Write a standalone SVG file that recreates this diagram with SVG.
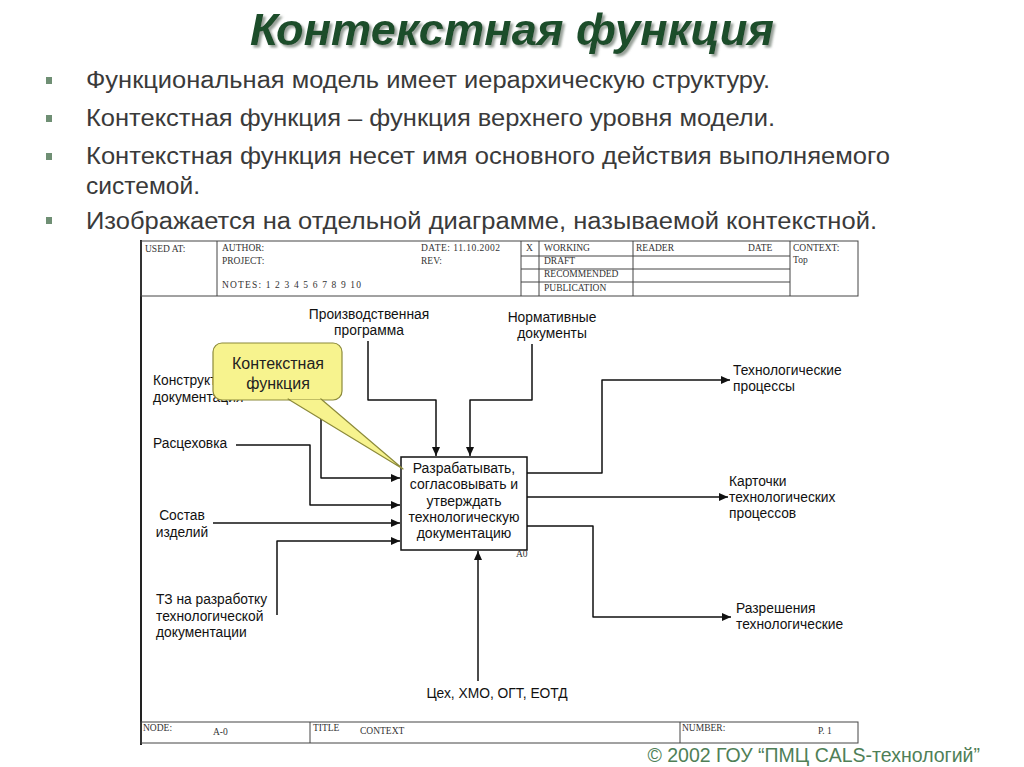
<svg xmlns="http://www.w3.org/2000/svg" width="1024" height="767" viewBox="0 0 1024 767">
<style>
.ttl{font-family:"Liberation Sans",Arial,sans-serif;font-weight:bold;font-style:italic;font-size:44px}
.bul{font-family:"Liberation Sans",Arial,sans-serif;font-size:23.5px;fill:#3a3a3a}
.hd{font-family:"Liberation Serif","Times New Roman",serif;font-size:9.5px;fill:#333}
.lb{font-family:"Liberation Sans",Arial,sans-serif;font-size:13.8px;fill:#111}
.bx{font-family:"Liberation Sans",Arial,sans-serif;font-size:14px;fill:#111}
.fr{fill:none;stroke:#444;stroke-width:1}
.cn{fill:none;stroke:#111;stroke-width:1.5;stroke-linejoin:round}
</style>
<defs>
<marker id="ah" markerUnits="userSpaceOnUse" markerWidth="10" markerHeight="8" refX="9" refY="4" orient="auto">
<path d="M0,0 L9,4 L0,8 Z" fill="#111"/>
</marker>
<filter id="sh" x="-5%" y="-20%" width="110%" height="150%">
<feDropShadow dx="2.5" dy="2.5" stdDeviation="1" flood-color="#8a948c" flood-opacity="0.9"/>
</filter>
</defs>
<rect width="1024" height="767" fill="#fff"/>

<g id="title">
<text class="ttl" x="512" y="45" text-anchor="middle" fill="#1d4d2c" filter="url(#sh)" textLength="524" lengthAdjust="spacingAndGlyphs">Контекстная функция</text>
</g>

<g id="bullets">
<rect x="46" y="77" width="6" height="7" fill="#6f8f74"/>
<rect x="46" y="115" width="6" height="7" fill="#6f8f74"/>
<rect x="46" y="153" width="6" height="7" fill="#6f8f74"/>
<rect x="46" y="217" width="6" height="7" fill="#6f8f74"/>
<text class="bul" x="86" y="88" textLength="684" lengthAdjust="spacingAndGlyphs">Функциональная модель имеет иерархическую структуру.</text>
<text class="bul" x="86" y="126" textLength="689" lengthAdjust="spacingAndGlyphs">Контекстная функция – функция верхнего уровня модели.</text>
<text class="bul" x="86" y="164" textLength="804" lengthAdjust="spacingAndGlyphs">Контекстная функция несет имя основного действия выполняемого</text>
<text class="bul" x="86" y="194" textLength="114" lengthAdjust="spacingAndGlyphs">системой.</text>
<text class="bul" x="86" y="229" textLength="791" lengthAdjust="spacingAndGlyphs">Изображается на отдельной диаграмме, называемой контекстной.</text>
</g>

<g id="frame">
<line x1="141" y1="240" x2="141" y2="745" stroke="#222" stroke-width="2"/>
<rect class="fr" x="141" y="241" width="717" height="55"/>
<line class="fr" x1="217" y1="241" x2="217" y2="296"/>
<line class="fr" x1="521" y1="241" x2="521" y2="296"/>
<line class="fr" x1="539" y1="241" x2="539" y2="296"/>
<line class="fr" x1="633" y1="241" x2="633" y2="296"/>
<line class="fr" x1="790" y1="241" x2="790" y2="296"/>
<line class="fr" x1="521" y1="256" x2="790" y2="256"/>
<line class="fr" x1="521" y1="269" x2="790" y2="269"/>
<line class="fr" x1="521" y1="282" x2="790" y2="282"/>
<text class="hd" x="145" y="252">USED AT:</text>
<text class="hd" x="222" y="251">AUTHOR:</text>
<text class="hd" x="222" y="264">PROJECT:</text>
<text class="hd" x="222" y="288" textLength="139" lengthAdjust="spacing">NOTES:  1  2  3  4  5  6  7  8  9  10</text>
<text class="hd" x="421" y="251" textLength="79" lengthAdjust="spacing">DATE:   11.10.2002</text>
<text class="hd" x="421" y="264">REV:</text>
<text class="hd" x="526" y="251">X</text>
<text class="hd" x="544" y="251">WORKING</text>
<text class="hd" x="544" y="264">DRAFT</text>
<text class="hd" x="544" y="277">RECOMMENDED</text>
<text class="hd" x="544" y="291">PUBLICATION</text>
<text class="hd" x="636" y="251">READER</text>
<text class="hd" x="748" y="251">DATE</text>
<text class="hd" x="793" y="251" font-size="8.5">CONTEXT:</text>
<text class="hd" x="793" y="263" font-size="8.5">Top</text>
<rect class="fr" x="141" y="722" width="717" height="21"/>
<line class="fr" x1="310" y1="722" x2="310" y2="743"/>
<line class="fr" x1="680" y1="722" x2="680" y2="743"/>
<text class="hd" x="143" y="731">NODE:</text>
<text class="hd" x="213" y="735">A-0</text>
<text class="hd" x="313" y="731">TITLE</text>
<text class="hd" x="360" y="734">CONTEXT</text>
<text class="hd" x="682" y="731">NUMBER:</text>
<text class="hd" x="818" y="734">P. 1</text>
</g>

<g id="connectors">
<path class="cn" d="M368,341 V400 H436 V456" marker-end="url(#ah)"/>
<path class="cn" d="M532,344 V400 H470 V456" marker-end="url(#ah)"/>
<path class="cn" d="M232,392 H321 V478 H400" marker-end="url(#ah)"/>
<path class="cn" d="M236,445 H310 V505 H400" marker-end="url(#ah)"/>
<path class="cn" d="M213,523 H400" marker-end="url(#ah)"/>
<path class="cn" d="M277,615 V541 H400" marker-end="url(#ah)"/>
<path class="cn" d="M478,681 V551" marker-end="url(#ah)"/>
<path class="cn" d="M527,473 H602 V380 H730" marker-end="url(#ah)"/>
<path class="cn" d="M527,497 H728" marker-end="url(#ah)"/>
<path class="cn" d="M527,526 H593 V617 H731" marker-end="url(#ah)"/>
</g>

<g id="labels">
<text class="lb" x="369" y="319" text-anchor="middle">Производственная</text>
<text class="lb" x="369" y="335" text-anchor="middle">программа</text>
<text class="lb" x="552" y="322" text-anchor="middle">Нормативные</text>
<text class="lb" x="552" y="338" text-anchor="middle">документы</text>
<text class="lb" x="153" y="385">Конструкторская</text>
<text class="lb" x="153" y="402">документация</text>
<text class="lb" x="153" y="448">Расцеховка</text>
<text class="lb" x="182" y="520" text-anchor="middle">Состав</text>
<text class="lb" x="182" y="537" text-anchor="middle">изделий</text>
<text class="lb" x="156" y="604">ТЗ на разработку</text>
<text class="lb" x="156" y="621">технологической</text>
<text class="lb" x="156" y="637">документации</text>
<text class="lb" x="497" y="698" text-anchor="middle">Цех, ХМО, ОГТ, ЕОТД</text>
<text class="lb" x="733" y="375">Технологические</text>
<text class="lb" x="733" y="391">процессы</text>
<text class="lb" x="729" y="486">Карточки</text>
<text class="lb" x="729" y="502">технологических</text>
<text class="lb" x="729" y="518">процессов</text>
<text class="lb" x="736" y="613">Разрешения</text>
<text class="lb" x="736" y="629">технологические</text>
</g>

<g id="node-A0">
<rect x="401" y="457" width="126" height="93" fill="#fff" stroke="#111" stroke-width="1.5"/>
<text class="bx" x="464" y="473" text-anchor="middle">Разрабатывать,</text>
<text class="bx" x="464" y="489" text-anchor="middle">согласовывать и</text>
<text class="bx" x="464" y="506" text-anchor="middle">утверждать</text>
<text class="bx" x="464" y="522" text-anchor="middle">технологическую</text>
<text class="bx" x="464" y="538" text-anchor="middle">документацию</text>
<text class="hd" x="516" y="557" font-size="6.5">A0</text>
</g>

<g id="callout">
<rect x="213" y="343" width="129" height="57" rx="9" fill="#f7f38e" stroke="#8c8a3a" stroke-width="1.2"/>
<path d="M288,399 L403,469 L321,399 Z" fill="#f7f38e" stroke="#8c8a3a" stroke-width="1.2" stroke-linejoin="round"/>
<rect x="289" y="396" width="31" height="3" fill="#f7f38e"/>
<text x="278" y="369" text-anchor="middle" font-family="Liberation Sans, Arial, sans-serif" font-size="16" fill="#222">Контекстная</text>
<text x="278" y="389" text-anchor="middle" font-family="Liberation Sans, Arial, sans-serif" font-size="16" fill="#222">функция</text>
</g>

<g id="footer">
<text x="980" y="762" text-anchor="end" font-family="Liberation Sans, Arial, sans-serif" font-size="19.5" fill="#4f7f57">© 2002 ГОУ “ПМЦ CALS-технологий”</text>
</g>
</svg>
